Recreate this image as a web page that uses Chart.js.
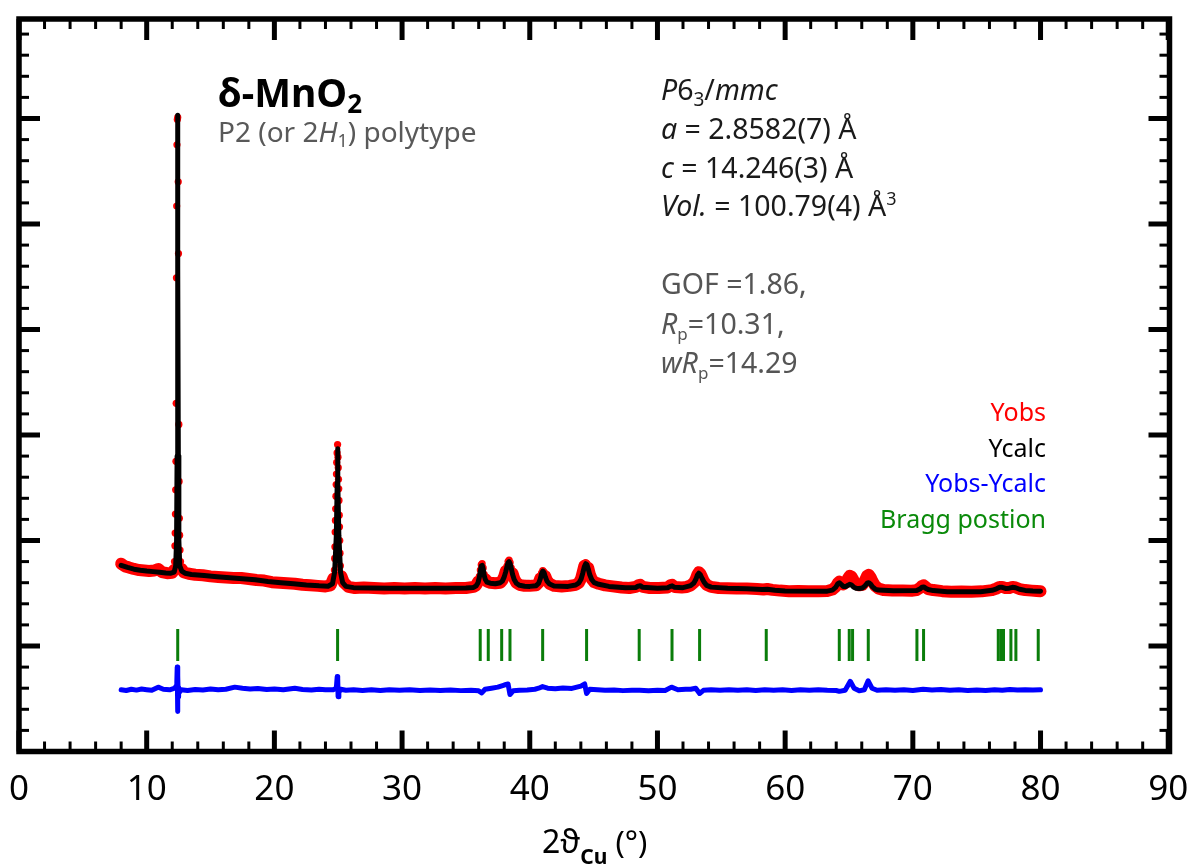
<!DOCTYPE html>
<html>
<head>
<meta charset="utf-8">
<script src="https://cdn.jsdelivr.net/npm/chart.js@4.4.1/dist/chart.umd.min.js"></script>
<style>
  html, body { margin: 0; padding: 0; background: #fff; }
</style>
</head>
<body>
<canvas id="xrd" width="1189" height="868"></canvas>
<script>
// 2theta (deg) / intensity (arb. units, 0..7 on the frame)
const obsX = [8.0, 8.3, 8.6, 9.0, 9.4, 9.8, 10.2, 10.6, 10.9, 11.2, 11.6, 12.0, 12.15,
  12.18, 12.21, 12.23, 12.25, 12.27, 12.29, 12.31, 12.33, 12.35, 12.37, 12.40, 12.43,
  12.47, 12.49, 12.52, 12.54, 12.56, 12.58, 12.61, 12.65, 12.75,
  12.9, 13.3, 13.8, 14.4, 15.0, 15.6, 16.2, 16.8, 17.4, 18.0, 18.6, 19.2, 19.8, 20.4,
  21.0, 21.6, 22.2, 22.8, 23.4, 24.0, 24.4, 24.62,
  24.70, 24.72, 24.74, 24.76, 24.78, 24.80, 24.82, 24.84, 24.86, 24.88, 24.91, 24.95,
  24.98, 25.00, 25.02, 25.04, 25.06, 25.08, 25.10, 25.12, 25.14, 25.17, 25.25, 25.45,
  25.8, 26.3, 27.0, 27.8, 28.6, 29.4, 30.2, 31.0, 31.8, 32.6, 33.4, 34.2, 35.0,
  35.6, 35.8, 35.95, 36.05, 36.13, 36.2, 36.27, 36.35, 36.43, 36.52, 36.65, 36.9, 37.3,
  37.7, 37.85, 38.0, 38.12, 38.22, 38.3, 38.38, 38.46, 38.55, 38.65, 38.78, 38.95, 39.2,
  39.6, 40.0, 40.5, 40.7, 40.82, 40.92, 41.02, 41.12, 41.22, 41.35, 41.55, 41.9, 42.5, 43.1,
  43.6, 43.85, 44.02, 44.15, 44.27, 44.38, 44.48, 44.58, 44.7, 44.85, 45.05, 45.4, 45.9,
  46.5, 47.2, 47.8, 48.3, 48.5, 48.65, 48.85, 49.4, 50.1, 50.8, 51.0, 51.15, 51.35, 51.9,
  52.3, 52.6, 52.85, 53.0, 53.12, 53.24, 53.36, 53.5, 53.65, 53.85, 54.2, 54.8, 55.5, 56.2,
  57.0, 57.8, 58.3, 58.6, 59.0, 59.6, 60.3, 61.0, 61.8, 62.6, 63.3,
  63.7, 63.95, 64.12, 64.24, 64.38, 64.55, 64.75, 64.92, 65.05, 65.18, 65.35, 65.55, 65.8,
  66.05, 66.25, 66.42, 66.55, 66.7, 66.85, 67.05, 67.3, 67.7, 68.4, 69.2, 69.9,
  70.3, 70.55, 70.72, 70.85, 71.0, 71.2, 71.6, 72.3, 73.0, 73.8, 74.6, 75.4,
  76.2, 76.55, 76.8, 77.0, 77.25, 77.55, 77.8, 78.05, 78.35, 78.8, 79.3, 79.7, 80.0];
const obsY = [1.78, 1.755, 1.745, 1.73, 1.72, 1.715, 1.71, 1.715, 1.73, 1.70, 1.69, 1.695, 1.72,
  1.80, 1.95, 2.07, 2.25, 2.48, 2.75, 3.30, 4.49, 5.17, 5.75, 5.99, 6.01,
  5.40, 4.72, 3.10, 2.56, 2.21, 2.05, 1.91, 1.80, 1.73,
  1.70, 1.685, 1.675, 1.67, 1.66, 1.655, 1.65, 1.645, 1.645, 1.635, 1.625, 1.62, 1.605, 1.60,
  1.595, 1.59, 1.58, 1.575, 1.57, 1.565, 1.575, 1.64,
  1.72, 1.83, 1.94, 2.08, 2.19, 2.30, 2.42, 2.53, 2.63, 2.74, 2.83, 2.91,
  2.79, 2.69, 2.58, 2.49, 2.38, 2.24, 2.13, 2.00, 1.88, 1.76, 1.66, 1.60,
  1.56, 1.55, 1.555, 1.55, 1.545, 1.55, 1.545, 1.55, 1.545, 1.55, 1.545, 1.55, 1.55,
  1.56, 1.575, 1.61, 1.66, 1.72, 1.77, 1.78, 1.74, 1.68, 1.635, 1.61, 1.60, 1.595,
  1.60, 1.62, 1.66, 1.71, 1.76, 1.80, 1.815, 1.79, 1.74, 1.69, 1.64, 1.60, 1.58,
  1.57, 1.57, 1.575, 1.60, 1.64, 1.69, 1.715, 1.70, 1.66, 1.62, 1.59, 1.57, 1.565, 1.57,
  1.58, 1.60, 1.64, 1.70, 1.76, 1.79, 1.78, 1.74, 1.68, 1.635, 1.605, 1.59, 1.575,
  1.565, 1.555, 1.55, 1.56, 1.575, 1.58, 1.56, 1.55, 1.55, 1.555, 1.575, 1.58, 1.56, 1.555,
  1.56, 1.575, 1.60, 1.635, 1.675, 1.70, 1.685, 1.65, 1.61, 1.58, 1.56, 1.55, 1.548, 1.545,
  1.545, 1.54, 1.535, 1.54, 1.532, 1.525, 1.52, 1.522, 1.518, 1.52, 1.522,
  1.535, 1.56, 1.595, 1.61, 1.60, 1.585, 1.60, 1.64, 1.665, 1.66, 1.625, 1.59, 1.575,
  1.58, 1.62, 1.665, 1.675, 1.65, 1.61, 1.57, 1.545, 1.53, 1.525, 1.527, 1.524,
  1.53, 1.55, 1.57, 1.575, 1.56, 1.54, 1.53, 1.52, 1.515, 1.517, 1.515, 1.518,
  1.53, 1.545, 1.56, 1.56, 1.55, 1.55, 1.56, 1.555, 1.54, 1.53, 1.525, 1.522, 1.52];

const calcX = [8.0, 8.5, 9.0, 9.5, 10.0, 10.5, 11.0, 11.5, 11.9, 12.15, 12.27, 12.34, 12.38,
  12.41, 12.43, 12.45, 12.48, 12.52, 12.59, 12.75, 13.0, 13.5, 14.5, 15.5, 16.5, 17.5,
  18.5, 19.5, 20.5, 21.5, 22.5, 23.5, 24.2, 24.55, 24.72, 24.85, 24.92, 24.95, 24.98,
  25.05, 25.18, 25.35, 25.6, 26.2, 27.5, 29.0, 31.0, 33.0, 35.0,
  35.6, 35.8, 35.95, 36.05, 36.13, 36.2, 36.27, 36.35, 36.43, 36.52, 36.65, 36.9, 37.3,
  37.7, 37.85, 38.0, 38.12, 38.22, 38.3, 38.38, 38.46, 38.55, 38.65, 38.78, 38.95, 39.2,
  39.6, 40.0, 40.5, 40.7, 40.82, 40.92, 41.02, 41.12, 41.22, 41.35, 41.55, 41.9, 43.0,
  43.6, 43.85, 44.02, 44.15, 44.27, 44.38, 44.48, 44.58, 44.7, 44.85, 45.05, 45.4, 46.2,
  47.5, 48.3, 48.5, 48.65, 48.85, 50.0, 50.8, 51.0, 51.15, 51.35, 52.0,
  52.6, 52.85, 53.0, 53.12, 53.24, 53.36, 53.5, 53.65, 53.85, 54.2, 55.5, 57.0, 58.2,
  58.6, 59.2, 60.0, 63.3,
  63.7, 63.95, 64.12, 64.24, 64.38, 64.55, 64.75, 64.92, 65.05, 65.18, 65.35, 65.55, 65.8,
  66.05, 66.25, 66.42, 66.55, 66.7, 66.85, 67.05, 67.3, 68.5,
  70.3, 70.55, 70.72, 70.85, 71.0, 71.2, 71.6, 72.7, 75.3,
  76.2, 76.55, 76.8, 77.0, 77.25, 77.55, 77.8, 78.05, 78.35, 78.8, 79.4, 80.0];
const calcY = [1.765, 1.745, 1.728, 1.718, 1.71, 1.705, 1.698, 1.692, 1.69, 1.70, 1.76, 2.0, 2.8,
  4.6, 6.03, 4.6, 2.8, 2.0, 1.76, 1.71, 1.69, 1.678, 1.668, 1.657, 1.647, 1.637,
  1.627, 1.612, 1.60, 1.59, 1.578, 1.57, 1.567, 1.59, 1.70, 2.05, 2.55, 2.87, 2.55,
  2.05, 1.70, 1.60, 1.565, 1.553, 1.55, 1.548, 1.548, 1.548, 1.55,
  1.555, 1.57, 1.60, 1.65, 1.71, 1.76, 1.765, 1.73, 1.67, 1.63, 1.605, 1.595, 1.59,
  1.60, 1.615, 1.655, 1.705, 1.755, 1.79, 1.80, 1.78, 1.735, 1.68, 1.63, 1.595, 1.575,
  1.567, 1.565, 1.572, 1.595, 1.635, 1.685, 1.71, 1.695, 1.655, 1.615, 1.587, 1.568, 1.565,
  1.578, 1.598, 1.635, 1.69, 1.75, 1.78, 1.77, 1.73, 1.675, 1.63, 1.60, 1.585, 1.565,
  1.552, 1.555, 1.568, 1.572, 1.556, 1.548, 1.552, 1.565, 1.57, 1.556, 1.553,
  1.572, 1.597, 1.63, 1.67, 1.69, 1.675, 1.64, 1.605, 1.575, 1.558, 1.547, 1.542, 1.535,
  1.537, 1.528, 1.522, 1.52,
  1.53, 1.555, 1.59, 1.60, 1.585, 1.565, 1.565, 1.575, 1.585, 1.58, 1.56, 1.548, 1.545,
  1.55, 1.57, 1.595, 1.60, 1.585, 1.56, 1.54, 1.53, 1.524,
  1.525, 1.54, 1.558, 1.56, 1.548, 1.535, 1.525, 1.515, 1.515,
  1.528, 1.542, 1.557, 1.556, 1.546, 1.548, 1.556, 1.552, 1.538, 1.527, 1.522, 1.52];

// difference curve (Yobs - Ycalc, shifted down)
const diffX = [8.0, 8.4, 8.8, 9.2, 9.6, 10.0, 10.4, 10.9, 11.3, 11.8, 12.2, 12.30, 12.36, 12.39,
  12.41, 12.43, 12.45, 12.47, 12.50, 12.56, 12.7, 13.2, 13.8, 14.4, 15.0, 15.6, 16.2, 16.9,
  17.5, 18.1, 18.7, 19.4, 20.0, 20.7, 21.6, 22.2, 22.9, 23.5, 24.0, 24.6, 24.85, 24.92,
  24.96, 24.99, 25.05, 25.2, 25.6, 26.2, 26.9, 27.6, 28.3, 29.0, 29.8, 30.6, 31.4, 32.2,
  33.0, 33.8, 34.6, 35.4, 36.0, 36.24, 36.5, 37.0, 37.5, 38.0, 38.3, 38.45, 38.7, 39.2,
  39.8, 40.4, 40.7, 41.0, 41.4, 42.0, 42.6, 43.3, 44.0, 44.3, 44.45, 44.7, 45.3, 45.9,
  46.6, 47.3, 48.0, 48.6, 49.3, 50.0, 50.6, 51.1, 51.6, 52.2, 52.6, 53.0, 53.3, 53.6, 54.2,
  54.9, 55.6, 56.3, 57.0, 57.7, 58.4, 59.1, 59.8, 60.5, 61.2, 61.9, 62.6, 63.3, 64.0, 64.24,
  64.7, 65.1, 65.4, 65.8, 66.2, 66.5, 66.8, 67.2, 67.9, 68.6, 69.3, 70.0, 70.8, 71.5, 72.2,
  72.9, 73.6, 74.3, 75.0, 75.7, 76.4, 77.0, 77.6, 78.2, 78.8, 79.4, 80.0];
const diffY = [0.585, 0.578, 0.59, 0.582, 0.592, 0.586, 0.58, 0.61, 0.59, 0.585, 0.60, 0.62, 0.66, 0.80,
  0.45, 0.38, 0.72, 0.52, 0.61, 0.56, 0.585, 0.578, 0.588, 0.583, 0.592, 0.585, 0.59, 0.61,
  0.60, 0.592, 0.598, 0.588, 0.593, 0.585, 0.60, 0.588, 0.582, 0.59, 0.586, 0.585, 0.60, 0.71,
  0.69, 0.52, 0.56, 0.59, 0.58, 0.586, 0.578, 0.585, 0.578, 0.586, 0.58, 0.585, 0.578, 0.584,
  0.578, 0.583, 0.577, 0.58, 0.575, 0.555, 0.59, 0.60, 0.61, 0.63, 0.64, 0.54, 0.575, 0.58,
  0.584, 0.59, 0.60, 0.615, 0.60, 0.595, 0.602, 0.598, 0.62, 0.64, 0.55, 0.59, 0.585, 0.58,
  0.584, 0.577, 0.581, 0.58, 0.576, 0.581, 0.578, 0.61, 0.585, 0.59, 0.59, 0.60, 0.55, 0.58, 0.585,
  0.58, 0.586, 0.58, 0.585, 0.579, 0.586, 0.58, 0.585, 0.579, 0.586, 0.58, 0.586, 0.581, 0.578, 0.57,
  0.58, 0.665, 0.60, 0.575, 0.585, 0.67, 0.60, 0.58, 0.586, 0.58, 0.585, 0.579, 0.59, 0.583, 0.587,
  0.58, 0.585, 0.579, 0.584, 0.578, 0.585, 0.58, 0.588, 0.582, 0.586, 0.583, 0.585];

// Bragg reflection positions (deg) and the height at which they are marked
const braggPos = [12.43, 24.95, 36.12, 36.75, 37.80, 38.45, 41.01, 44.45, 48.57, 51.14, 53.30,
  58.52, 64.24, 65.02, 65.28, 66.51, 70.32, 70.84, 76.69, 76.90, 77.10, 77.68, 78.07, 79.82];
const braggLevel = 1.01;

const xTickValues = [0, 10, 20, 30, 40, 50, 60, 70, 80, 90];

const FONT = "'Noto Sans', 'Open Sans', sans-serif";

function toPoints(xs, ys) {
    return xs.map((x, i) => ({ x: x, y: ys[i] }));
}

// write a line made of differently styled pieces: [text, font, dy]
function richText(ctx, x, y, runs, align) {
    let w = 0;
    runs.forEach(r => { ctx.font = r[1]; w += ctx.measureText(r[0]).width; });
    let cx = align === 'right' ? x - w : (align === 'center' ? x - w / 2 : x);
    runs.forEach(r => {
        ctx.font = r[1];
        ctx.fillText(r[0], cx, y + (r[2] || 0));
        cx += ctx.measureText(r[0]).width;
    });
}

const n = s => `${s}px ${FONT}`;
const it = s => `italic ${s}px ${FONT}`;
const bd = s => `bold ${s}px ${FONT}`;

const framePlugin = {
    id: 'frame',
    afterDraw(chart) {
        const { ctx, chartArea: a, scales: { x, y } } = chart;
        ctx.save();
        ctx.strokeStyle = '#000';
        ctx.lineCap = 'butt';
        const seg = (x0, y0, x1, y1) => {
            ctx.beginPath(); ctx.moveTo(x0, y0); ctx.lineTo(x1, y1); ctx.stroke();
        };
        // inward ticks, bottom + top
        for (let k = 0; k <= 45; k++) {
            const v = k * 2;
            const px = x.getPixelForValue(v);
            const major = v % 10 === 0;
            ctx.lineWidth = major ? 5 : 3;
            const len = major ? 21 : 10;
            seg(px, a.bottom, px, a.bottom - len);
            seg(px, a.top, px, a.top + len);
        }
        // inward ticks, left + right
        for (let k = 1; k * 0.2 < y.max; k++) {
            const py = y.getPixelForValue(k * 0.2);
            const major = k % 5 === 0;
            ctx.lineWidth = major ? 5 : 3;
            const len = major ? 21 : 10;
            seg(a.left, py, a.left + len, py);
            seg(a.right, py, a.right - len, py);
        }
        ctx.lineWidth = 5.5;
        ctx.strokeRect(a.left, a.top, a.right - a.left, a.bottom - a.top);

        // x tick labels
        ctx.fillStyle = '#000';
        ctx.font = n(35);
        ctx.textAlign = 'center';
        ctx.textBaseline = 'middle';
        xTickValues.forEach(v => ctx.fillText(String(v), x.getPixelForValue(v), 790));

        ctx.textBaseline = 'alphabetic';
        ctx.textAlign = 'left';

        // sample name
        ctx.fillStyle = '#000';
        richText(ctx, 218, 107, [['δ-MnO', bd(39)], ['2', bd(26), 6]]);
        ctx.fillStyle = '#595959';
        richText(ctx, 218, 142, [['P2 (or 2', n(28)], ['H', it(28)], ['1', n(18), 5], [') polytype', n(28)]]);

        // refined cell
        ctx.fillStyle = '#1a1a1a';
        richText(ctx, 661, 100, [['P', it(28.5)], ['6', n(28.5)], ['3', n(19), 6], ['/', n(28.5)], ['mmc', it(28.5)]]);
        richText(ctx, 661, 139, [['a', it(28.5)], [' = 2.8582(7) Å', n(28.5)]]);
        richText(ctx, 661, 178, [['c', it(28.5)], [' = 14.246(3) Å', n(28.5)]]);
        richText(ctx, 661, 216, [['Vol.', it(28.5)], [' = 100.79(4) Å', n(28.5)], ['3', n(18), -11]]);

        // agreement factors
        ctx.fillStyle = '#555555';
        richText(ctx, 661, 294, [['GOF =1.86,', n(28.5)]]);
        richText(ctx, 661, 334, [['R', it(28.5)], ['p', n(17), 6], ['=10.31,', n(28.5)]]);
        richText(ctx, 661, 373, [['wR', it(28.5)], ['p', n(17), 6], ['=14.29', n(28.5)]]);

        // legend
        const legend = [['Yobs', '#ff0000'], ['Ycalc', '#000000'], ['Yobs-Ycalc', '#0000ff'], ['Bragg postion', '#0a8a0a']];
        legend.forEach((l, i) => {
            ctx.fillStyle = l[1];
            richText(ctx, 1046, 421 + i * 35.5, [[l[0], n(25)]], 'right');
        });

        // x axis title
        ctx.fillStyle = '#000';
        richText(ctx, 542, 853, [['2ϑ', n(32)], ['Cu', bd(21), 11], [' (°)', n(31)]]);
        ctx.restore();
    }
};

// peak flanks are sampled so finely that only the dots should show there
const steep = c => Math.abs(c.p1.parsed.x - c.p0.parsed.x) < 0.11;

new Chart(document.getElementById('xrd'), {
    type: 'scatter',
    data: {
        datasets: [
            {
                label: 'Ycalc',
                data: toPoints(calcX, calcY),
                showLine: true,
                borderColor: '#000000',
                borderWidth: 5,
                borderJoinStyle: 'round',
                borderCapStyle: 'round',
                pointRadius: 0,
                tension: 0,
                order: 1
            },
            {
                label: 'Yobs',
                data: toPoints(obsX, obsY),
                showLine: true,
                borderColor: '#ff0000',
                borderWidth: 12,
                borderJoinStyle: 'round',
                borderCapStyle: 'round',
                pointRadius: 3.6,
                pointBackgroundColor: '#ff0000',
                pointBorderWidth: 0,
                tension: 0,
                segment: {
                    borderColor: c => steep(c) ? 'rgba(0,0,0,0)' : undefined
                },
                order: 2
            },
            {
                label: 'Yobs-Ycalc',
                data: toPoints(diffX, diffY),
                showLine: true,
                borderColor: '#0000ff',
                borderWidth: 5,
                borderJoinStyle: 'round',
                borderCapStyle: 'round',
                pointRadius: 0,
                tension: 0,
                order: 3
            },
            {
                label: 'Bragg postion',
                data: braggPos.map(p => ({ x: p, y: braggLevel })),
                showLine: false,
                pointStyle: 'line',
                pointRotation: 90,
                pointRadius: 16,
                pointBorderColor: '#0a7d0a',
                pointBorderWidth: 3,
                order: 4
            }
        ]
    },
    options: {
        responsive: false,
        devicePixelRatio: 1,
        animation: false,
        events: [],
        layout: {
            padding: { left: 19, top: 15.5, right: 19.5, bottom: 116.5 }
        },
        plugins: {
            legend: { display: false },
            tooltip: { enabled: false }
        },
        scales: {
            x: {
                type: 'linear',
                min: 0,
                max: 90.1,
                display: false
            },
            y: {
                type: 'linear',
                min: 0,
                max: 6.943,
                display: false
            }
        }
    },
    plugins: [framePlugin]
});
</script>
</body>
</html>
